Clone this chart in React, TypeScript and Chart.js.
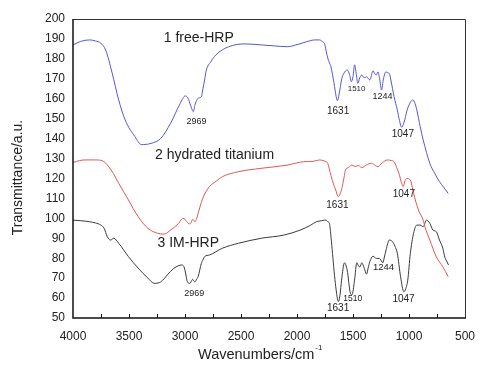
import React, { useEffect, useRef } from "react";
import { Chart, registerables } from "chart.js";

Chart.register(...registerables);

// ---- data (wavenumber cm-1, transmittance a.u.) ----
const freeX = [4000, 3930, 3852, 3800, 3751, 3708, 3650, 3592, 3534, 3447, 3390, 3303, 3216, 3129, 3042, 2999, 2975, 2961, 2940, 2926, 2910, 2890, 2870, 2854, 2840, 2825, 2811, 2770, 2724, 2609, 2464, 2319, 2200, 2088, 1990, 1914, 1840, 1798, 1770, 1755, 1740, 1726, 1710, 1697, 1670, 1650, 1639, 1625, 1600, 1581, 1552, 1530, 1515, 1500, 1486, 1470, 1457, 1440, 1422, 1400, 1379, 1350, 1321, 1305, 1292, 1277, 1262, 1245, 1228, 1205, 1190, 1176, 1162, 1133, 1104, 1085, 1065, 1045, 1017, 990, 965, 945, 930, 900, 873, 814, 770, 728, 690, 650];
const freeY = [187, 188.8, 189.5, 189, 187.8, 184.4, 172.8, 159.4, 149.3, 141, 137, 137.6, 140.1, 147.7, 157.7, 161.4, 160.5, 158.5, 155, 153.5, 157, 159.8, 160.5, 161, 165, 169.4, 174, 178.5, 182, 186.1, 187.5, 187, 186.5, 186.1, 187.3, 188.6, 189.5, 189.5, 188.5, 187.8, 184, 180.5, 178, 176, 168, 161, 159, 162, 170, 172.8, 174.4, 172, 168.5, 171, 177, 172, 167.7, 170.5, 171.9, 170.5, 171, 169.4, 174, 172.5, 171.9, 173.5, 170, 164.4, 170, 173.5, 173, 172.7, 169.4, 161, 154.3, 149, 145.7, 148, 154.3, 158, 159.4, 157.5, 154.3, 146, 139.3, 127.6, 122.5, 118.4, 115.5, 112.5];

const tiX = [4000, 3940, 3884, 3800, 3740, 3710, 3681, 3640, 3592, 3505, 3418, 3331, 3245, 3187, 3129, 3057, 3020, 3000, 2984, 2961, 2945, 2932, 2920, 2912, 2895, 2883, 2854, 2830, 2811, 2782, 2720, 2666, 2522, 2319, 2088, 1943, 1856, 1798, 1769, 1740, 1726, 1697, 1670, 1654, 1632, 1610, 1596, 1580, 1567, 1540, 1509, 1480, 1450, 1422, 1380, 1336, 1300, 1277, 1240, 1191, 1160, 1133, 1110, 1090, 1065, 1052, 1035, 1017, 988, 959, 916, 873, 858, 814, 756, 698, 650];
const tiY = [128, 129, 129.3, 129.3, 128.9, 127.8, 125.9, 122.5, 117.6, 109.2, 100.8, 95, 92.5, 92.1, 94.1, 97.5, 100, 99.5, 98.3, 97.2, 97.8, 99.5, 99, 98.3, 100, 102.5, 108, 111.5, 113.5, 115.9, 118.7, 120.9, 123.4, 125.1, 126.7, 128.4, 128.6, 129.3, 129, 128.4, 127.6, 121.5, 116.5, 114.2, 110.9, 113, 115.9, 120.5, 124.2, 125.5, 126.7, 126, 126.5, 125.4, 126.8, 127.6, 126.5, 125.9, 127.8, 129.3, 129, 128.4, 125.5, 122.6, 117.5, 115.9, 119, 120, 119.2, 112.5, 104.2, 99.1, 95.8, 89.1, 80.7, 75.7, 70.7];

const imX = [4000, 3930, 3852, 3800, 3751, 3722, 3694, 3665, 3636, 3592, 3505, 3418, 3331, 3274, 3230, 3190, 3158, 3100, 3060, 3028, 3010, 3000, 2990, 2979, 2956, 2940, 2932, 2920, 2912, 2895, 2883, 2854, 2840, 2825, 2782, 2666, 2522, 2319, 2117, 1972, 1880, 1827, 1780, 1755, 1740, 1726, 1711, 1695, 1683, 1654, 1630, 1615, 1602, 1576, 1552, 1523, 1509, 1486, 1466, 1450, 1437, 1422, 1399, 1379, 1365, 1350, 1321, 1292, 1263, 1234, 1220, 1205, 1176, 1147, 1125, 1104, 1075, 1046, 1030, 1011, 988, 959, 930, 901, 873, 844, 814, 786, 756, 728, 698, 680, 669, 647];
const imY = [99.1, 98.8, 98.3, 97.7, 96.6, 95, 90.8, 89.1, 90, 87.5, 80.8, 75, 70, 67.4, 67.7, 69.5, 71.6, 74.9, 76.2, 76.6, 75.8, 74, 71, 68.2, 67.4, 68.8, 69.4, 68.5, 68.2, 69.5, 70.7, 77.4, 79.1, 80.8, 81.6, 85, 87.5, 90, 91.6, 94.1, 96.5, 98.3, 98.8, 99.1, 99.1, 98.3, 97.5, 90, 82.4, 65.7, 58.2, 62, 69, 77.7, 74, 62.4, 61.6, 69, 77.7, 76, 75.7, 77.7, 74.9, 72, 75, 78.2, 81, 79.9, 79.9, 77.7, 80.5, 84.1, 89.1, 88.3, 86, 82.4, 70.7, 63.2, 64.5, 69, 82.4, 92.5, 96.6, 96.6, 95.8, 99.1, 97.5, 94.1, 93.3, 89.1, 85, 80.5, 79.1, 76.6];

const seriesNames = ["1 free-HRP", "2 hydrated titanium", "3 IM-HRP"];
const peakLabels = ["2969", "1631", "1510", "1244", "1047"];

// annotation anchors (data coords) – layout only
const seriesTextPos = [
  { x: 3190, y: 190.5 },
  { x: 3268, y: 131.8 },
  { x: 3245, y: 87.6 },
];
const peakTextPos = [
  { t: 0, x: 2898, y: 148.8, s: 9 },
  { t: 1, x: 1633, y: 153.5, s: 10 },
  { t: 2, x: 1468, y: 165.2, s: 8 },
  { t: 3, x: 1237, y: 161, s: 9 },
  { t: 4, x: 1055, y: 142.3, s: 10 },
  { t: 1, x: 1639, y: 106.7, s: 10 },
  { t: 4, x: 1046, y: 112.2, s: 10 },
  { t: 0, x: 2918, y: 62.4, s: 9 },
  { t: 1, x: 1633, y: 54.8, s: 10 },
  { t: 2, x: 1503, y: 59.5, s: 8.5 },
  { t: 3, x: 1228, y: 75.4, s: 9.5 },
  { t: 4, x: 1049, y: 59.5, s: 10 },
];

const FONT = "'Liberation Sans', Arial, sans-serif";
const TEXT = "#222";

const toPts = (xs: number[], ys: number[]) => xs.map((x, i) => ({ x, y: ys[i] }));

const decor = {
  id: "decor",
  afterDraw(chart: any) {
    const { ctx, chartArea: a, scales } = chart;
    const xs = scales.x;
    const ys = scales.y;
    ctx.save();
    // frame
    ctx.strokeStyle = "#333";
    ctx.lineWidth = 1;
    ctx.beginPath();
    ctx.moveTo(a.left, a.top + 0.5);
    ctx.lineTo(a.right + 0.5, a.top + 0.5);
    ctx.lineTo(a.right + 0.5, a.bottom);
    ctx.stroke();
    ctx.strokeStyle = "#111";
    ctx.lineWidth = 1.5;
    ctx.beginPath();
    ctx.moveTo(a.left, a.top);
    ctx.lineTo(a.left, a.bottom);
    ctx.lineTo(a.right + 1, a.bottom);
    ctx.stroke();
    // inward ticks on x axis
    ctx.lineWidth = 1;
    for (let v = 750; v < 4000; v += 250) {
      const px = Math.round(xs.getPixelForValue(v)) + 0.5;
      ctx.beginPath();
      ctx.moveTo(px, a.bottom);
      ctx.lineTo(px, a.bottom - 4);
      ctx.stroke();
    }
    // series names
    ctx.fillStyle = TEXT;
    ctx.textBaseline = "middle";
    ctx.textAlign = "left";
    ctx.font = `14px ${FONT}`;
    seriesNames.forEach((n, i) => {
      const p = seriesTextPos[i];
      ctx.fillText(n, xs.getPixelForValue(p.x), ys.getPixelForValue(p.y));
    });
    // peak labels
    ctx.textAlign = "center";
    peakTextPos.forEach((p) => {
      ctx.font = `${p.s}px ${FONT}`;
      ctx.fillText(peakLabels[p.t], xs.getPixelForValue(p.x), ys.getPixelForValue(p.y));
    });
    // axis titles
    ctx.font = `14px ${FONT}`;
    ctx.save();
    ctx.translate(18, (a.top + a.bottom) / 2 + 9);
    ctx.rotate(-Math.PI / 2);
    ctx.textAlign = "center";
    ctx.fillText("Transmittance/a.u.", 0, 0);
    ctx.restore();
    ctx.font = `14.5px ${FONT}`;
    ctx.textAlign = "left";
    const main = "Wavenumbers/cm";
    const w = ctx.measureText(main).width;
    const sx = (a.left + a.right) / 2 - 71;
    ctx.fillText(main, sx, 355);
    ctx.font = `8px ${FONT}`;
    ctx.fillText("-1", sx + w + 1, 348);
    ctx.restore();
  },
};

export default function App() {
  const ref = useRef<HTMLCanvasElement>(null);
  useEffect(() => {
    document.body.style.margin = "0";
    Chart.defaults.font.family = FONT;
    const line = (data: any, color: string) => ({
      data,
      borderColor: color,
      borderWidth: 1,
      pointRadius: 0,
      cubicInterpolationMode: "monotone" as const,
      fill: false,
    });
    const chart = new Chart(ref.current as HTMLCanvasElement, {
      type: "line",
      data: {
        datasets: [
          { label: seriesNames[0], ...line(toPts(freeX, freeY), "#5656cf") },
          { label: seriesNames[1], ...line(toPts(tiX, tiY), "#e05656") },
          { label: seriesNames[2], ...line(toPts(imX, imY), "#3a3a3a") },
        ],
      },
      options: {
        animation: false,
        responsive: false,
        layout: { padding: { top: 19, right: 9, left: 0, bottom: 0 } },
        plugins: { legend: { display: false }, tooltip: { enabled: false } },
        scales: {
          x: {
            type: "linear",
            reverse: true,
            min: 500,
            max: 4000,
            ticks: {
              stepSize: 500,
              color: TEXT,
              font: { size: 12 },
              padding: 11,
              maxRotation: 0,
              autoSkip: false,
              callback: (v: any) => String(v),
            },
            grid: { display: false, drawTicks: false },
            border: { display: false },
            afterFit: (s: any) => {
              s.height = 47;
            },
          },
          y: {
            type: "linear",
            min: 50,
            max: 200,
            ticks: { stepSize: 10, color: TEXT, font: { size: 12 }, padding: 8, callback: (v: any) => String(v) },
            grid: { display: false, drawTicks: false },
            border: { display: false },
            afterFit: (s: any) => {
              s.width = 73;
            },
          },
        },
      },
      plugins: [decor],
    });
    return () => chart.destroy();
  }, []);
  return (
    <div style={{ position: "absolute", left: 0, top: 0, width: 486, height: 365, background: "#fff" }}>
      <canvas ref={ref} width={486} height={365} style={{ display: "block" }} />
    </div>
  );
}
